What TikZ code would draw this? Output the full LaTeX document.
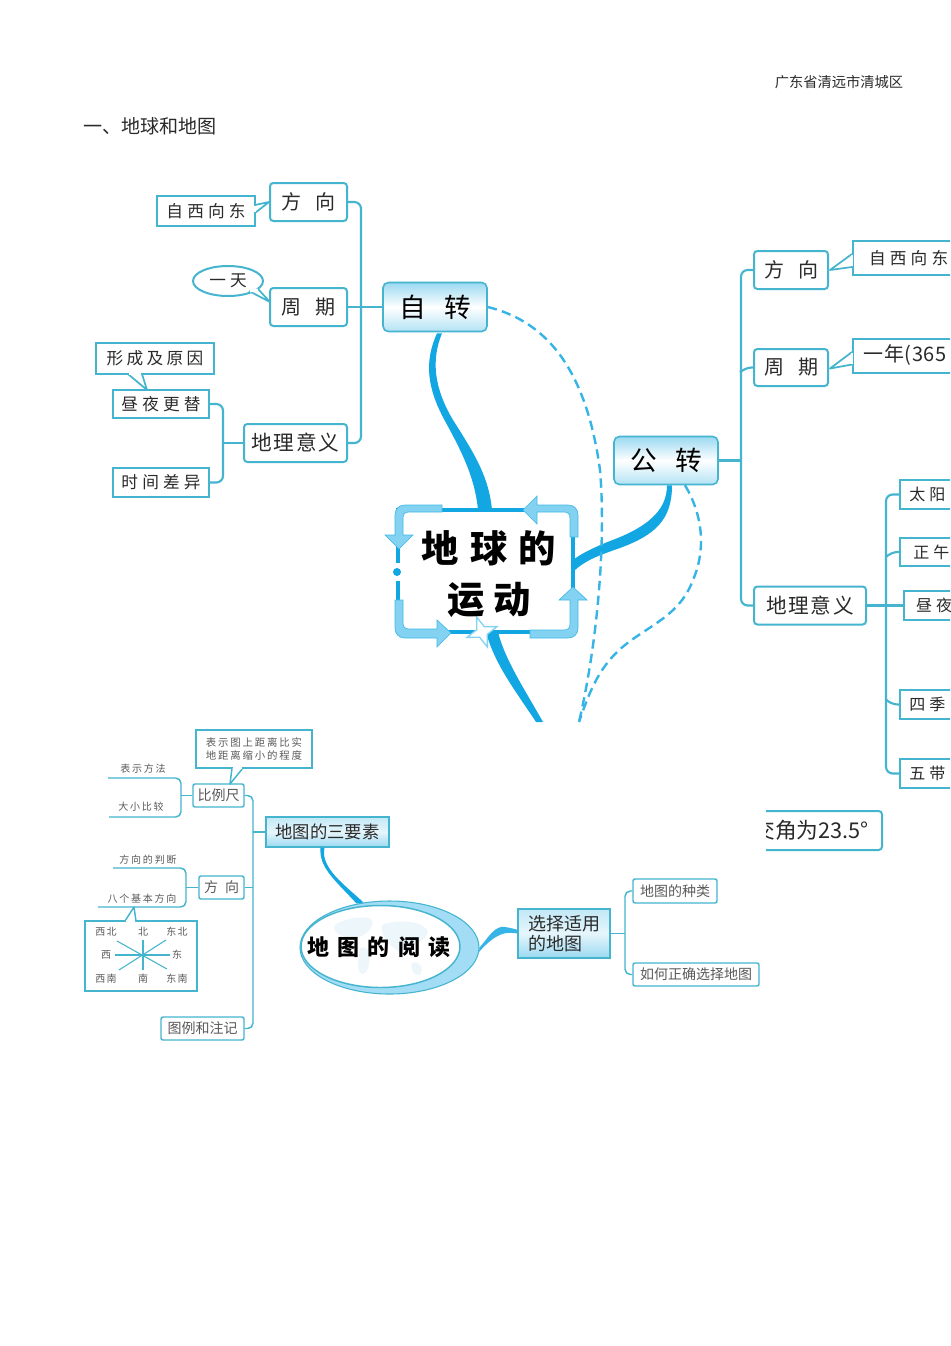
\documentclass[tikz,border=0pt]{standalone}
\usepackage{fontspec}
\setmainfont{Noto Sans CJK SC}
\usetikzlibrary{shapes.geometric,calc}
\definecolor{ln}{HTML}{45B5CF}
\definecolor{thk}{HTML}{12A7E2}
\definecolor{bandc}{HTML}{84D2F2}
\definecolor{headc}{HTML}{9AD9F1}
\definecolor{mapc}{HTML}{EDF6FB}
\definecolor{txa}{HTML}{2A2A2A}
\definecolor{txb}{HTML}{5A5A5A}
\newcommand\fz[2]{\fontsize{#1}{#1}\selectfont\addfontfeature{LetterSpace=#2}}
\tikzset{
  wh/.style 2 args={minimum width=#1*0.75pt,minimum height=#2*0.75pt,inner sep=0pt},
  rbox/.style={draw=ln,line width=1.5pt,rounded corners=2.5pt,fill=white,text=txa},
  sbox/.style={draw=ln,line width=1.5pt,fill=white,text=txa},
  head/.style={draw=ln,line width=1.2pt,rounded corners=4pt,top color=headc,bottom color=headc!75,middle color=white,text=black},
  sqhead/.style={draw=ln,line width=1.1pt,top color=headc!60,bottom color=headc,middle color=headc!25,text=txa},
  conn/.style={draw=ln,line width=1.6pt,rounded corners=5pt},
  conl/.style={draw=ln,line width=1.1pt,rounded corners=4pt},
  tailp/.style={draw=ln,line width=1.3pt,fill=white,line join=round},
  dashc/.style={draw=thk!85!white,line width=1.8pt,dash pattern=on 7pt off 4pt},
  band/.style={draw=thk!80,line width=.5pt,fill=bandc},
  lowbox/.style={draw=ln,line width=1.1pt,rounded corners=1.5pt,fill=white,text=txb,font=\fz{10.5}{0}},
  lowtxt/.style={text=txb,inner sep=0pt,font=\fz{7.5}{18}},
  cut/.style={sbox,anchor=west,inner sep=0pt,minimum height=#1*0.75pt,align=left},
  cut/.default=29
}
\begin{document}
\begin{tikzpicture}[x=0.75pt,y=-0.75pt]
\useasboundingbox (0,0) rectangle (950,1346);
\clip (0,0) rectangle (950,1346);
\fill[white] (0,0) rectangle (950,1346);

% headings
\node[text=txa,inner sep=0pt,font=\fz{10.7}{0}] (hdr) at (839,82) {广东省清远市清城区};
\node[text=txa,inner sep=0pt,anchor=west,font=\fz{14.3}{0}] (ttl) at (83,126) {一、地球和地图};

% ---------- centre and main nodes
\node[draw=thk,line width=2.4pt,fill=white,wh={175}{122}] (ctr) at (485.5,571) {};
\node[head,wh={104}{49},font=\fz{20}{70}] (zz) at (435,307) {自转};
\node[head,wh={104}{48},font=\fz{20}{70}] (gz) at (666,460.5) {公转};

\coordinate (cutA) at (543,722);
\coordinate (cutB) at (579,722);

% thick branches
\fill[thk] ($(zz.south)+(2,1)$) .. controls (424,362) and (427,388) .. (445,421)
  .. controls (462,452) and (475,478) .. (478,510) -- (492,510)
  .. controls (489,478) and (476,456) .. (453,420)
  .. controls (434,388) and (431,360) .. ($(zz.south)+(7,1)$) -- cycle;
\fill[thk] ($(gz.south)+(1,0)$) .. controls (667,512) and (645,528) .. (610,541)
  .. controls (595,547) and (582,553) .. (573,560) -- (573,572)
  .. controls (585,560) and (600,555) .. (620,548)
  .. controls (655,535) and (672,520) .. ($(gz.south)+(6,0)$) -- cycle;
\fill[thk] (486,632) -- (498,632) .. controls (505,660) and (525,690) .. (cutA)
  -- (536,722) .. controls (515,690) and (495,665) .. (486,632) -- cycle;

% dashed links
\draw[dashc] (zz.east) .. controls (540,320) and (585,360) .. (600,470)
  .. controls (606,540) and (598,640) .. (cutB);
\draw[dashc] ($(gz.south)+(19,0)$) .. controls (700,510) and (708,545) .. (693,580)
  .. controls (680,615) and (650,625) .. (625,645)
  .. controls (600,665) and (590,690) .. (cutB);

% corner arrows of the centre box
\filldraw[band] (523,510) -- (537,496) -- (537,505) -- (568,505) .. controls (574,505) and (578,509) .. (578,515)
  -- (578,537) -- (570,537) -- (570,518) .. controls (570,514) and (568,512) .. (564,512) -- (537,512) -- (537,524) -- cycle;
\filldraw[band] (442,505) -- (405,505) .. controls (399,505) and (395,509) .. (395,515) -- (395,535) -- (385,535)
  -- (399,549) -- (413,535) -- (403,535) -- (403,518) .. controls (403,514) and (405,512) .. (409,512) -- (442,512) -- cycle;
\filldraw[band] (395,600) -- (395,628) .. controls (395,634) and (399,638) .. (405,638) -- (437,638) -- (437,647)
  -- (451,633) -- (437,620) -- (437,629) -- (408,629) .. controls (405,629) and (403,627) .. (403,624) -- (403,600) -- cycle;
\filldraw[band] (530,638) -- (568,638) .. controls (574,638) and (578,634) .. (578,628) -- (578,600) -- (587,600)
  -- (573,587) -- (559,600) -- (570,600) -- (570,624) .. controls (570,628) and (568,630) .. (564,630) -- (530,630) -- cycle;
\fill[white] (394,563) rectangle (402,581);
\fill[thk] (397,572) circle[radius=4];
\node[star,star points=4,star point ratio=2.8,draw=bandc,line width=1pt,fill=white,rotate=20,minimum size=24pt,inner sep=0pt] (st) at (482,632) {};
\node[text=black,inner sep=0pt,font=\bfseries\fz{28}{30}] (ct1) at (489,548) {地球的};
\node[text=black,inner sep=0pt,font=\bfseries\fz{28}{25}] (ct2) at (489,600) {运动};

% ---------- left upper group
\node[rbox,wh={77}{38},font=\fz{15}{70}] (fx) at (308.5,202) {方向};
\node[rbox,wh={77}{38},font=\fz{15}{70}] (zq) at (308.5,307) {周期};
\node[rbox,wh={103}{38},font=\fz{15.5}{8}] (dl) at (295.5,443) {地理意义};
\node[sbox,wh={98}{30},font=\fz{12.5}{25}] (xd) at (206,211) {自西向东};
\node[ellipse,draw=ln,line width=1.5pt,fill=white,text=txa,wh={70}{30},font=\fz{12.5}{25}] (yt) at (228,281) {一天};
\node[sbox,wh={118}{31},font=\fz{12.5}{20}] (xc) at (155,358.5) {形成及原因};
\node[sbox,wh={96}{28},font=\fz{12.5}{25}] (zy) at (161,404) {昼夜更替};
\node[sbox,wh={96}{29},font=\fz{12.5}{25}] (sj) at (161,482.5) {时间差异};

\coordinate (b1) at (361,307);
\coordinate (b2) at (223,443);
\draw[conn] (fx.east) -| (b1) |- (dl.east);
\draw[conn] (zq.east) -- (zz.west);
\draw[conn] (zy.east) -| (b2) |- (sj.east);
\draw[conn] (dl.west) -- (b2);

\draw[tailp] (255,205) -- (fx.west) -- (255,213);
\draw[white,line width=1.8pt] (255,205.8) -- (255,212.2);
\draw[tailp] (249,291) -- (270,302) -- (258,289);
\draw[white,line width=2pt] (250,291) -- (258,290);
\draw[tailp] (128,374) -- (147,390) -- (142,374);
\draw[white,line width=1.8pt] (129,374) -- (141,374);

% ---------- right upper group
\node[rbox,wh={74}{38},font=\fz{15}{70}] (rfx) at (791,270) {方向};
\node[rbox,wh={74}{37},font=\fz{15}{70}] (rzq) at (791,367.5) {周期};
\node[rbox,wh={112}{38},font=\fz{15.5}{8}] (rdl) at (810,605.5) {地理意义};
\node[cut=34,text width=160*0.75pt,font=\fz{12.5}{25}] (rxd) at (852,258) {\hspace*{12pt}自西向东};
\node[cut=34,text width=160*0.75pt,font=\fz{15}{3}] (rzn) at (852,355.5) {\hspace*{8pt}一年(365};
\node[cut=29,text width=100*0.75pt,font=\fz{12}{25}] (ty) at (899,494.5) {\hspace*{7pt}太阳};
\node[cut=28,text width=100*0.75pt,font=\fz{12}{25}] (zw) at (899,552) {\hspace*{10pt}正午};
\node[cut=29,text width=100*0.75pt,font=\fz{12}{25}] (rzy) at (903,605.5) {\hspace*{9pt}昼夜};
\node[cut=29,text width=100*0.75pt,font=\fz{12}{25}] (sjj) at (899,704.5) {\hspace*{7pt}四季};
\node[cut=29,text width=100*0.75pt,font=\fz{12}{25}] (wd) at (899,773.5) {\hspace*{7pt}五带};

\coordinate (b3) at (741,460.5);
\coordinate (b4) at (886,605.5);
\draw[conn] (rfx.west) -| (b3) |- (rdl.west);
\draw[conn] (rzq.west) -- ++(-8,0) -- ++(-5,5);
\draw[conn] (gz.east) -- (b3);
\draw[conn] (ty.west) -| (b4) |- (wd.west);
\draw[conn] (zw.west) -- ++(-8,0) -- ++(-5,5);
\draw[conn] (sjj.west) -- ++(-8,0) -- ++(-5,-5);
\draw[conn] (rdl.east) -- (rzy.west);

\draw[tailp] (852,254) -- (830,270) -- (852,267);
\draw[white,line width=1.8pt] (852,255) -- (852,266);
\draw[tailp] (852,352) -- (830,368.5) -- (852,364.5);
\draw[white,line width=1.8pt] (852,353) -- (852,363.5);

% cropped box
\begin{scope}
\clip (766,800) rectangle (890,860);
\node[rbox,wh={142}{39},font=\fz{16.3}{0}] (ja) at (811,830.5) {交角为23.5°};
\end{scope}

% ---------- lower group
\node[sqhead,wh={123}{30},font=\fz{13}{0}] (sy) at (327.5,832) {地图的三要素};
\node[lowbox,wh={51}{23}] (bl) at (218.5,795.5) {比例尺};
\node[lowbox,wh={45}{23},font=\fz{10.5}{50}] (lfx) at (221.5,887.5) {方向};
\node[lowbox,wh={83}{23}] (tl) at (202.5,1028.5) {图例和注记};
\node[draw=ln,line width=1.1pt,fill=white,text=txb,wh={116}{38},align=center,font=\fz{7.8}{18}] (bs) at (254,749) {表示图上距离比实\\[2.2pt]地距离缩小的程度};
\node[lowtxt] (m1) at (143,769) {表示方法};
\node[lowtxt] (m2) at (141,807) {大小比较};
\node[lowtxt] (m3) at (148,860) {方向的判断};
\node[lowtxt] (m4) at (142,899) {八个基本方向};
\coordinate (l1) at (108,778);
\coordinate (l2) at (109,817);
\coordinate (l3) at (113,868);
\coordinate (l4) at (98,907);
\coordinate (b5) at (253,832);
\coordinate (b6) at (181,795.5);
\coordinate (b7) at (186,887.5);
\draw[conl] (bl.east) -| (b5) |- (tl.east);
\draw[conl] (sy.west) -- (b5);
\draw[conl] (lfx.east) -- (253,887.5);
\draw[conl] (l1) -| (b6) |- (l2);
\draw[conl] (bl.west) -- (b6);
\draw[conl] (l3) -| (b7) |- (l4);
\draw[conl] (lfx.west) -- (b7);
\draw[tailp,line width=1.1pt] (232,768) -- (230,784) -- (243,768);
\draw[white,line width=1.4pt] (233,768) -- (242,768);

% compass
\node[draw=ln,line width=1.1pt,fill=white,wh={112}{70}] (cp) at (141,956) {};
\draw[tailp,line width=1.1pt] (125,921) -- (134,907) -- (136,921);
\draw[white,line width=1.4pt] (126,921) -- (135.2,921);
\coordinate (cN) at (143,940); \coordinate (cS) at (143,970);
\coordinate (cW) at (115,955); \coordinate (cE) at (170,955);
\coordinate (cNW) at (117,941); \coordinate (cSE) at (167,969);
\coordinate (cNE) at (166,940); \coordinate (cSW) at (119,970);
\draw[ln,line width=.8pt] (cN) -- (cS);
\draw[ln,line width=.8pt] (cW) -- (cE);
\draw[ln,line width=.8pt] (cNW) -- (cSE);
\draw[ln,line width=.8pt] (cNE) -- (cSW);
\node[lowtxt,font=\fz{7.5}{12}] (d1) at (106,932) {西北};
\node[lowtxt,font=\fz{7.5}{12}] (d2) at (143,932) {北};
\node[lowtxt,font=\fz{7.5}{12}] (d3) at (177,932) {东北};
\node[lowtxt,font=\fz{7.5}{12}] (d4) at (106,955) {西};
\node[lowtxt,font=\fz{7.5}{12}] (d5) at (177,955) {东};
\node[lowtxt,font=\fz{7.5}{12}] (d6) at (106,979) {西南};
\node[lowtxt,font=\fz{7.5}{12}] (d7) at (143,979) {南};
\node[lowtxt,font=\fz{7.5}{12}] (d8) at (177,979) {东南};

% reading ellipse
\node[ellipse,draw=ln,line width=.8pt,fill=bandc!75,wh={179}{93}] (el) at (389.5,947.5) {};
\node[ellipse,draw=ln,line width=1.1pt,fill=white,wh={159}{82}] (ei) at (380.5,946.5) {};
\fill[mapc] (335,925) .. controls (345,918) and (365,915) .. (372,920) .. controls (375,930) and (360,940) .. (350,938) .. controls (340,936) and (332,932) .. (335,925) -- cycle;
\fill[mapc] (360,948) .. controls (368,945) and (372,955) .. (368,968) .. controls (365,978) and (358,975) .. (358,965) -- cycle;
\fill[mapc] (382,925) .. controls (400,918) and (425,922) .. (428,932) .. controls (425,942) and (410,945) .. (405,955) .. controls (395,950) and (380,940) .. (382,925) -- cycle;
\fill[mapc] (412,963) .. controls (420,960) and (424,968) .. (420,975) .. controls (414,976) and (410,970) .. (412,963) -- cycle;
\node[text=black,inner sep=0pt,font=\bfseries\fz{16.5}{38}] (et) at (379,947) {地图的阅读};

\node[sqhead,wh={92}{49},align=left,font=\fz{13.5}{0}] (xz) at (564,933.5) {选择适用\\[1.2pt]的地图\hspace*{13.5pt}};
\node[lowbox,wh={84}{24}] (zl) at (675,891) {地图的种类};
\node[lowbox,wh={126}{23}] (rh) at (696,974.5) {如何正确选择地图};
\coordinate (b8) at (625,933.5);
\draw[conl] (zl.west) -| (b8) |- (rh.west);
\draw[conl] (xz.east) -- (b8);

\fill[thk] ($(sy.south)+(-7,0)$) .. controls (319,868) and (335,880) .. ($(el.north)+(-33,3)$)
 -- ($(el.north)+(-26,2)$) .. controls (345,885) and (320,868) .. ($(sy.south)+(-3,0)$) -- cycle;
\fill[thk!85!white] (el.east) .. controls (488,938) and (495,925) .. (505,927) .. controls (511,928) and (515,929) .. (518,930)
 -- (xz.west) .. controls (505,931) and (495,934) .. (479,952) -- cycle;
\end{tikzpicture}
\end{document}
